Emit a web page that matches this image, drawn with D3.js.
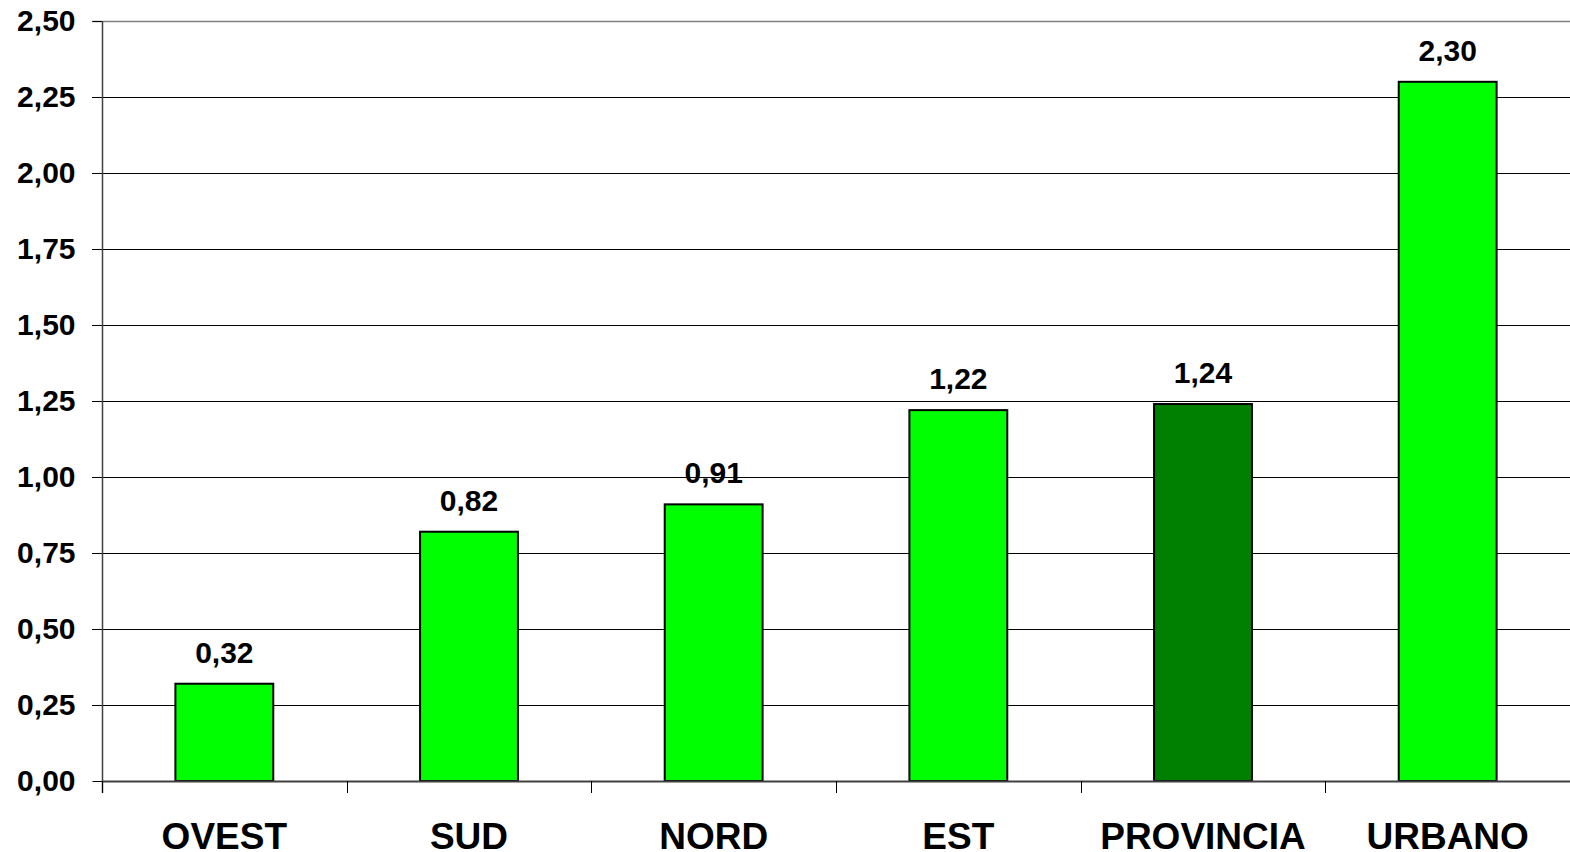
<!DOCTYPE html>
<html>
<head>
<meta charset="utf-8">
<script src="https://cdn.jsdelivr.net/npm/d3@7"></script>
<style>
  body { margin: 0; background: #fff; }
  svg { display: block; font-family: "Liberation Sans", Arial, sans-serif; font-weight: bold; }
</style>
</head>
<body>
<svg width="1570" height="852"></svg>
<script>
// dati
var categories = ["OVEST", "SUD", "NORD", "EST", "PROVINCIA", "URBANO"];
var values = [0.32, 0.82, 0.91, 1.22, 1.24, 2.30];
var barColors = ["#00ff00", "#00ff00", "#00ff00", "#00ff00", "#008000", "#00ff00"];
var yTicks = [0, 0.25, 0.5, 0.75, 1, 1.25, 1.5, 1.75, 2, 2.25, 2.5];

var svg = d3.select("svg");
var plotLeft = 102, plotRight = 1570, plotTop = 21, plotBottom = 781;

var fmt = function(v) { return d3.format(".2f")(v).replace(".", ","); };

var x = d3.scaleBand()
  .domain(categories)
  .range([plotLeft, plotRight])
  .paddingInner(0.6)
  .paddingOuter(0.3);

var y = d3.scaleLinear()
  .domain([0, 2.5])
  .range([plotBottom, plotTop]);

// griglia
svg.append("g")
  .selectAll("line")
  .data(yTicks.filter(function(d) { return d > 0; }))
  .enter()
  .append("line")
  .attr("x1", plotLeft - 10)
  .attr("x2", plotRight)
  .attr("y1", function(d) { return y(d) + 0.5; })
  .attr("y2", function(d) { return y(d) + 0.5; })
  .attr("stroke", function(d) { return d === 2.5 ? "#808080" : "#000"; })
  .attr("stroke-width", function(d) { return d === 2.5 ? 1.5 : 1; });

// asse y
var yAxis = d3.axisLeft(y)
  .tickValues(yTicks)
  .tickSize(10)
  .tickPadding(17)
  .tickFormat(fmt);

var gy = svg.append("g")
  .attr("transform", "translate(" + (plotLeft + 0.5) + ",0)")
  .call(yAxis);
gy.select(".domain").remove();
gy.selectAll(".tick line").attr("stroke", "#000");
gy.selectAll(".tick text")
  .attr("fill", "#000")
  .style("font-size", "30px")
  .style("font-weight", "bold")
  .style("font-family", "'Liberation Sans', Arial, sans-serif");

svg.append("line")
  .attr("x1", plotLeft + 0.5).attr("x2", plotLeft + 0.5)
  .attr("y1", plotTop).attr("y2", plotBottom + 12)
  .attr("stroke", "#404040").attr("stroke-width", 1.5);

// barre
svg.append("g")
  .selectAll("rect")
  .data(values)
  .enter()
  .append("rect")
  .attr("x", function(d, i) { return x(categories[i]); })
  .attr("y", function(d) { return y(d); })
  .attr("width", x.bandwidth())
  .attr("height", function(d) { return plotBottom - y(d); })
  .attr("fill", function(d, i) { return barColors[i]; })
  .attr("stroke", "#000")
  .attr("stroke-width", 2);

// asse x
svg.append("line")
  .attr("x1", plotLeft).attr("x2", plotRight)
  .attr("y1", plotBottom + 0.5).attr("y2", plotBottom + 0.5)
  .attr("stroke", "#404040").attr("stroke-width", 2);

var step = x.step();
svg.append("g")
  .selectAll("line")
  .data(categories)
  .enter()
  .append("line")
  .attr("x1", function(d) { return Math.round(x(d) - step * 0.3) + 0.5; })
  .attr("x2", function(d) { return Math.round(x(d) - step * 0.3) + 0.5; })
  .attr("y1", plotBottom)
  .attr("y2", plotBottom + 12)
  .attr("stroke", "#000");

svg.append("g")
  .selectAll("text")
  .data(categories)
  .enter()
  .append("text")
  .attr("x", function(d) { return x(d) + x.bandwidth() / 2; })
  .attr("y", 849)
  .attr("text-anchor", "middle")
  .style("font-size", "37px")
  .text(function(d) { return d; });

// etichette valori
svg.append("g")
  .selectAll("text")
  .data(values)
  .enter()
  .append("text")
  .attr("x", function(d, i) { return x(categories[i]) + x.bandwidth() / 2; })
  .attr("y", function(d) { return y(d) - 21; })
  .attr("text-anchor", "middle")
  .style("font-size", "30px")
  .text(fmt);
</script>
</body>
</html>
